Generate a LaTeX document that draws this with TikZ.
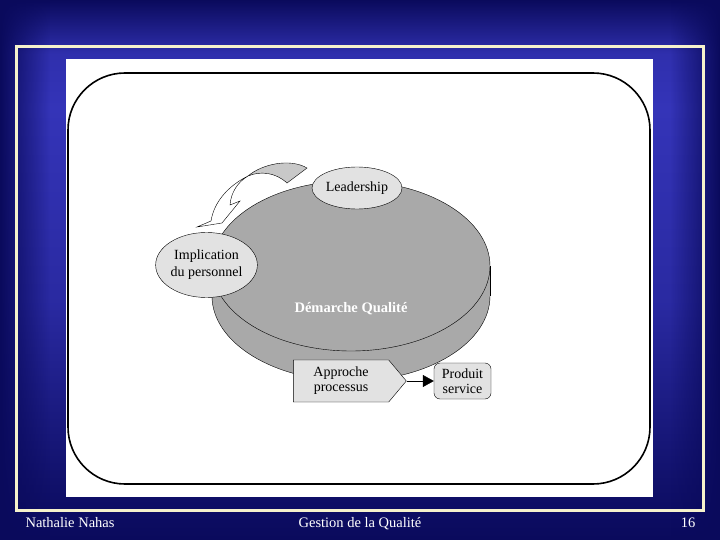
\documentclass[tikz,border=0pt]{standalone}
\usepackage{fontspec}
\setmainfont{Liberation Serif}
\usetikzlibrary{positioning,shapes.geometric,shapes.symbols,arrows.meta,fadings}

\definecolor{navy}{HTML}{0A0A5C}
\definecolor{slideblue}{HTML}{3434B8}
\definecolor{cream}{HTML}{F6F2CC}
\definecolor{discgray}{HTML}{A9A9A9}
\definecolor{bubblegray}{HTML}{E2E2E2}
\definecolor{ribbongray}{HTML}{C8C8C8}

% fond de la diapo
\pgfdeclareverticalshading{slidebg}{100bp}{color(0bp)=(navy); color(25bp)=(navy);
  color(30bp)=(navy!85!slideblue); color(47bp)=(navy!25!slideblue);
  color(65bp)=(slideblue); color(70bp)=(slideblue!88!navy);
  color(75bp)=(navy); color(100bp)=(navy)}

\begin{document}
\begin{tikzpicture}[x=1pt,y=-1pt,
  bulle/.style={ellipse,draw,fill=bubblegray,inner sep=0pt,align=center,
    font=\fontsize{14}{17}\selectfont},
  boite/.style={draw,fill=bubblegray,align=center,inner sep=0pt,
    font=\fontsize{14}{15}\selectfont},
  pied/.style={text=white,anchor=base,font=\fontsize{14.5}{16}\selectfont}]
\useasboundingbox (0,0) rectangle (720,540);
\shade[shading=slidebg] (0,0) rectangle (720,540);
\fill[navy,path fading=east] (0,0) rectangle (50,540);
\fill[navy,path fading=west] (670,0) rectangle (720,540);
\draw[cream,line width=3] (16.5,46.5) rectangle (703.5,510.5);
\fill[white] (66,59) rectangle (653,497);
\draw[line width=1.6,rounded corners=57] (68,73) rectangle (650,484);

% le disque
\node[ellipse,draw,fill=discgray,minimum width=278,minimum height=170] (socle) at (351,296) {};
\fill[discgray] (212,266) rectangle (490,296);
\draw (212,266) -- (212,296);
\draw (490,266) -- (490,296);
\node[ellipse,draw,fill=discgray,minimum width=278,minimum height=170] (disque) at (351,266) {};
\node[text=white,font=\bfseries\fontsize{14.5}{16}\selectfont] (demarche) at (351,309) {Démarche Qualité};

% fleche courbe
\filldraw[fill=ribbongray] (248,176) .. controls (262,164) and (290,158) .. (307,168)
  -- (287,183) .. controls (275,172) and (260,171) .. (248,176) -- cycle;
\filldraw[fill=white] (248,176) .. controls (228,186) and (214,202) .. (211,221)
  -- (197,227) -- (222,223) -- (240,201) -- (230,205)
  .. controls (231,192) and (238,182) .. (248,176) -- cycle;

\node[bulle,minimum width=90,minimum height=42] (leader) at (357,188) {Leadership};
\node[bulle,minimum width=97,minimum height=65] (implic) at (206.5,265) {Implication\\du personnel};

\node[boite,shape=signal,signal to=east,signal pointer angle=100,
  minimum width=113,minimum height=42] (approche) at (341,381) {Approche\\processus};
\node[boite,rounded corners=6,minimum width=57,minimum height=36] (produit) at (462.5,381) {Produit\\service};
\draw[-{Triangle[length=11,width=12]}] (approche.east) -- (produit.west);

% bas de page
\node[pied,anchor=base west] (auteur) at (22,527) {Nathalie Nahas};
\node[pied] (titre) at (360,527) {Gestion de la Qualité};
\node[pied] (numero) at (688,527) {16};
\end{tikzpicture}
\end{document}
